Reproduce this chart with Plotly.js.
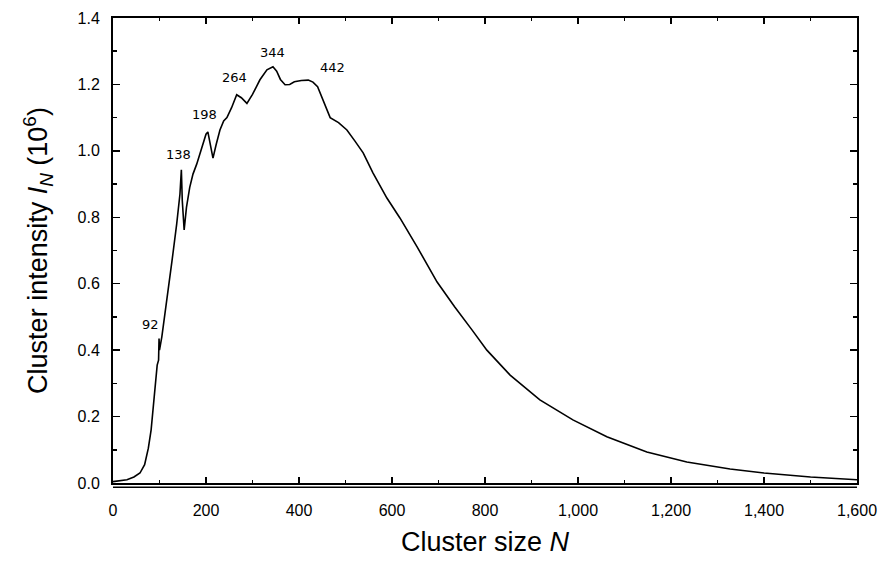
<!DOCTYPE html>
<html>
<head>
<meta charset="utf-8">
<script src="https://cdn.plot.ly/plotly-3.0.1.min.js"></script>
<style>html,body{margin:0;padding:0;background:#fff;}#chart{width:881px;height:572px;}</style>
</head>
<body>
<div id="chart"></div>
<script>
// Cluster size N
const clusterSize = [0, 15, 30, 45, 58, 68, 76, 82, 86, 90, 95, 98, 99, 100, 105, 112, 118, 127, 137, 144, 147, 149, 153, 158, 165, 172, 180, 187, 194, 200, 204, 210, 215, 222, 230, 238, 245, 255, 266, 276, 288, 300, 316, 331, 344, 352, 360, 370, 380, 390, 405, 420, 430, 440, 450, 467, 485, 503, 520, 538, 559, 589, 617, 654, 697, 735, 772, 804, 854, 918, 989, 1062, 1148, 1234, 1327, 1400, 1500, 1600];
// Cluster intensity I_N (10^6)
const intensity = [0.004, 0.006, 0.010, 0.018, 0.030, 0.055, 0.105, 0.16, 0.22, 0.30, 0.355, 0.37, 0.435, 0.40, 0.44, 0.51, 0.58, 0.67, 0.78, 0.87, 0.943, 0.85, 0.762, 0.83, 0.89, 0.93, 0.96, 0.99, 1.02, 1.05, 1.057, 1.01, 0.978, 1.02, 1.063, 1.09, 1.10, 1.13, 1.169, 1.16, 1.143, 1.17, 1.214, 1.244, 1.253, 1.24, 1.215, 1.199, 1.200, 1.208, 1.212, 1.213, 1.207, 1.193, 1.16, 1.10, 1.085, 1.063, 1.03, 0.994, 0.934, 0.858, 0.798, 0.711, 0.605, 0.53, 0.461, 0.40, 0.325, 0.25, 0.19, 0.139, 0.093, 0.063, 0.042, 0.030, 0.018, 0.010];
// Magic-number labels and their positions (N, I)
const peakLabels = ["92", "138", "198", "264", "344", "442"];
const peakLabelN = [80, 140, 196, 262, 342, 471];
const peakLabelI = [0.476, 0.988, 1.108, 1.22, 1.295, 1.25];

const annotations = peakLabels.map((t, i) => ({
  x: peakLabelN[i], y: peakLabelI[i], xref: 'x', yref: 'y',
  text: t, showarrow: false,
  font: {family: 'DejaVu Sans, sans-serif', size: 13, color: '#000'}
}));

const trace = {
  x: clusterSize, y: intensity, type: 'scatter', mode: 'lines',
  line: {color: '#000', width: 1.6}, hoverinfo: 'skip'
};

const axisFont = {family: 'Liberation Sans, Arial, sans-serif', size: 16, color: '#000'};
const titleFont = {family: 'Liberation Sans, Arial, sans-serif', size: 27, color: '#000'};

const layout = {
  width: 881, height: 572,
  margin: {l: 113, r: 24, t: 18, b: 89, pad: 0},
  paper_bgcolor: '#fff', plot_bgcolor: '#fff',
  showlegend: false,
  xaxis: {
    range: [0, 1600], dtick: 200, tick0: 0, tickformat: ',d',
    ticks: 'inside', ticklen: 6, tickwidth: 1.5, tickcolor: '#000',
    minor: {dtick: 100, ticks: 'inside', ticklen: 3, tickcolor: '#000', showgrid: false},
    showline: true, linecolor: '#000', linewidth: 2, mirror: 'allticks',
    showgrid: false, zeroline: false, tickfont: axisFont,
    ticklabelstandoff: 12,
    title: {text: 'Cluster size <i>N</i>', font: titleFont, standoff: 14},
    automargin: false
  },
  yaxis: {
    range: [0, 1.4], dtick: 0.2, tick0: 0, tickformat: '.1f',
    ticks: 'inside', ticklen: 7, tickwidth: 1.5, tickcolor: '#000',
    minor: {dtick: 0.1, ticks: 'inside', ticklen: 4, tickcolor: '#000', showgrid: false},
    showline: true, linecolor: '#000', linewidth: 2, mirror: 'allticks',
    showgrid: false, zeroline: false, tickfont: axisFont,
    ticklabelstandoff: 8,
    title: {text: 'Cluster intensity <i>I</i><sub><i>N</i></sub> (10<sup>6</sup>)', font: titleFont, standoff: 22},
    automargin: false
  },
  shapes: [{
    type: 'line', xref: 'paper', yref: 'paper', x0: 0, x1: 1, y0: -0.009, y1: -0.009,
    line: {color: '#000', width: 1.5}
  }],
  annotations: annotations
};

Plotly.newPlot('chart', [trace], layout, {staticPlot: true, displayModeBar: false});
</script>
</body>
</html>
